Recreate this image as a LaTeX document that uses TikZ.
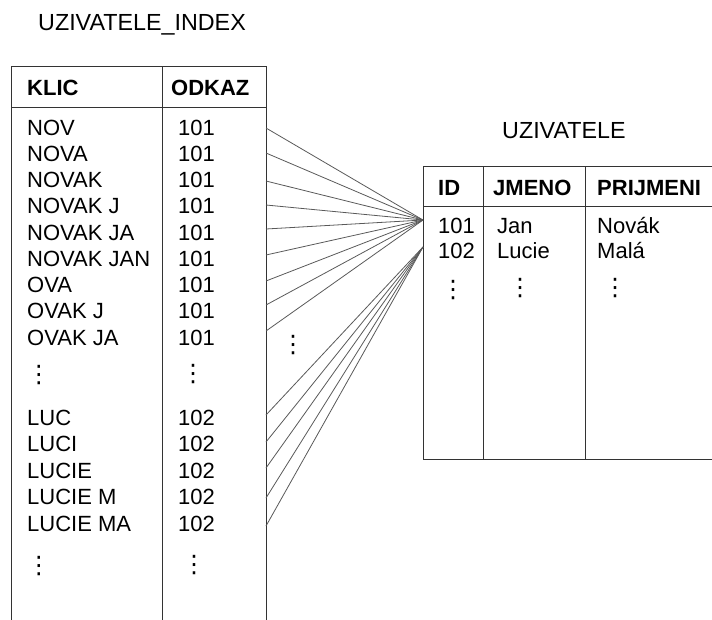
\documentclass[tikz,border=0pt]{standalone}
\usepackage{fontspec}
\setmainfont{Liberation Sans}
\newfontfamily\dejavu{DejaVu Sans}
\newcommand\vdts{{\dejavu ⋮}}
\begin{document}
\begin{tikzpicture}[x=1pt,y=-1pt,
  txt/.style={anchor=base west, inner sep=0pt, font=\fontsize{22}{26}\selectfont},
  ttl/.style={anchor=base west, inner sep=0pt, font=\fontsize{23.3}{26}\selectfont},
  hdr/.style={anchor=base west, inner sep=0pt, font=\fontsize{22}{26}\selectfont\bfseries},
  dts/.style={anchor=center, inner sep=0pt, font=\fontsize{24}{26}\selectfont},
  tbl/.style={draw=black!80, line width=1pt},
  conn/.style={draw=black!65, line width=0.8pt}]
\useasboundingbox (0,0) rectangle (712,619);
% titles
\node[ttl] (t1) at (38,30) {UZIVATELE\_INDEX};
\node[ttl] (t2) at (502,138) {UZIVATELE};
% left table frame
\draw[tbl] (11,625) -- (11,66) -- (266,66) -- (266,625);
\draw[tbl] (162,66) -- (162,625);
\draw[tbl] (11,107) -- (266,107);
\node[hdr] (klic) at (27,95) {KLIC};
\node[hdr] (odkaz) at (171,95) {ODKAZ};
% rows 101
\foreach \k [count=\i from 0] in {NOV,NOVA,NOVAK,NOVAK J,NOVAK JA,NOVAK JAN,OVA,OVAK J,OVAK JA}{
  \node[txt] (k\i) at (27,{127+26.25*\i+8}) {\k};
  \node[txt] (v\i) at (178,{127+26.25*\i+8}) {101};
}
\foreach \k [count=\i from 0] in {LUC,LUCI,LUCIE,LUCIE M,LUCIE MA}{
  \node[txt] (m\i) at (27,{417+26.5*\i+8}) {\k};
  \node[txt] (w\i) at (178,{417+26.5*\i+8}) {102};
}
\node[dts] (d1) at (39,375) {\vdts};
\node[dts] (d2) at (193,374) {\vdts};
\node[dts] (d3) at (39,566) {\vdts};
\node[dts] (d4) at (194,565) {\vdts};
\node[dts] (d5) at (293,345) {\vdts};
% right table frame
\draw[tbl] (715,166) -- (423,166) -- (423,459) -- (715,459);
\draw[tbl] (423,206) -- (715,206);
\draw[tbl] (483,166) -- (483,459);
\draw[tbl] (585,166) -- (585,459);
\node[hdr] (id) at (438,195) {ID};
\node[hdr] (jm) at (493,195) {JMENO};
\node[hdr] (pr) at (597,195) {PRIJMENI};
\node[txt] (r1a) at (438,233) {101};
\node[txt] (r1b) at (497,233) {Jan};
\node[txt] (r1c) at (597,233) {Novák};
\node[txt] (r2a) at (438,258) {102};
\node[txt] (r2b) at (497,258) {Lucie};
\node[txt] (r2c) at (597,258) {Malá};
\node[dts] (d6) at (453,290) {\vdts};
\node[dts] (d7) at (520,288) {\vdts};
\node[dts] (d8) at (615,288) {\vdts};
% connectors
\coordinate (ta) at (423,220);
\coordinate (tb) at (423,247);
\foreach \y [count=\i] in {128,153,181,205,229,255,281,305,331}{
  \coordinate (sa\i) at (266,\y);
  \draw[conn] (sa\i) -- (ta);
}
\foreach \y [count=\i] in {415,442,468,498,526}{
  \coordinate (sb\i) at (266,\y);
  \draw[conn] (sb\i) -- (tb);
}
\end{tikzpicture}
\end{document}
